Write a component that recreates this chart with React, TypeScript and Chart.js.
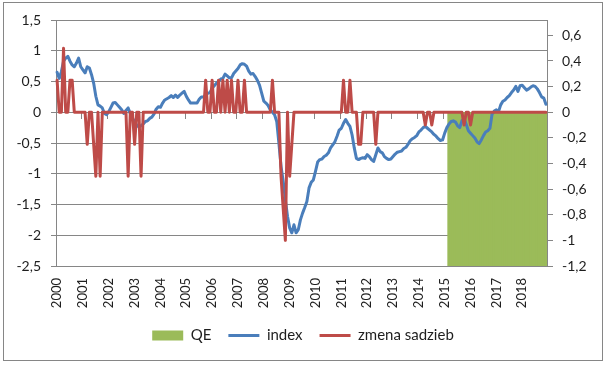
import React, { useEffect, useRef } from 'react';
import { Chart, registerables } from 'chart.js';

Chart.register(...registerables);

// ---- data ----
const years = ['2000', '2001', '2002', '2003', '2004', '2005', '2006', '2007', '2008', '2009',
  '2010', '2011', '2012', '2013', '2014', '2015', '2016', '2017', '2018'];
const monthNumbers = ['01', '02', '03', '04', '05', '06', '07', '08', '09', '10', '11', '12'];
const monthLabels = years.flatMap((y) => monthNumbers.map((m) => `${y}-${m}`));

// index (left axis), one value per month
const indexValues = [
  0.65, 0.55, 0.66, 0.83, 0.88, 0.91, 0.83, 0.77, 0.74, 0.80, 0.88, 0.74,
  0.69, 0.64, 0.74, 0.72, 0.61, 0.47, 0.26, 0.12, 0.10, 0.07, -0.02, -0.04,
  0.01, 0.08, 0.15, 0.16, 0.12, 0.08, 0.04, -0.02, 0.03, 0.07, -0.02, -0.10,
  -0.15, -0.21, -0.24, -0.22, -0.19, -0.15, -0.14, -0.10, -0.08, -0.03, 0.05, 0.09,
  0.08, 0.15, 0.20, 0.22, 0.24, 0.27, 0.24, 0.28, 0.24, 0.28, 0.31, 0.34,
  0.26, 0.20, 0.15, 0.15, 0.15, 0.15, 0.21, 0.25, 0.25, 0.28, 0.31, 0.32,
  0.39, 0.43, 0.47, 0.51, 0.54, 0.55, 0.62, 0.59, 0.56, 0.56, 0.63, 0.67,
  0.71, 0.77, 0.79, 0.78, 0.75, 0.67, 0.62, 0.63, 0.58, 0.52, 0.44, 0.31,
  0.18, 0.15, 0.11, 0.04, 0.00, -0.04, -0.15, -0.50, -0.88, -1.12, -1.42, -1.69,
  -1.88, -1.96, -1.83, -1.96, -1.91, -1.75, -1.64, -1.55, -1.45, -1.23, -1.14, -1.10,
  -0.96, -0.81, -0.77, -0.76, -0.72, -0.70, -0.66, -0.58, -0.53, -0.48, -0.39, -0.29,
  -0.26, -0.18, -0.12, -0.18, -0.23, -0.37, -0.58, -0.75, -0.77, -0.75, -0.74, -0.75,
  -0.69, -0.72, -0.77, -0.80, -0.69, -0.58, -0.64, -0.66, -0.72, -0.75, -0.77, -0.76,
  -0.72, -0.68, -0.65, -0.64, -0.63, -0.59, -0.57, -0.52, -0.46, -0.43, -0.41, -0.38,
  -0.32, -0.29, -0.25, -0.23, -0.26, -0.29, -0.32, -0.36, -0.39, -0.43, -0.46, -0.45,
  -0.34, -0.25, -0.19, -0.15, -0.14, -0.16, -0.22, -0.25, -0.14, -0.10, -0.20, -0.30,
  -0.34, -0.38, -0.42, -0.48, -0.51, -0.45, -0.38, -0.32, -0.30, -0.26, -0.03, 0.02,
  0.04, 0.01, 0.12, 0.18, 0.20, 0.24, 0.27, 0.32, 0.36, 0.42, 0.34, 0.43,
  0.44, 0.40, 0.36, 0.38, 0.41, 0.43, 0.42, 0.38, 0.32, 0.25, 0.23, 0.13,
];

// zmena sadzieb (right axis), one value per month
const rateChanges = [
  0.25, 0, 0, 0.5, 0, 0, 0.25, 0.25, 0, 0, 0, 0,
  0, 0, -0.25, 0, 0, -0.25, -0.5, 0, -0.5, 0, 0, 0,
  0, 0, 0, 0, 0, 0, 0, 0, 0, -0.5, 0, 0,
  -0.25, 0, 0, -0.5, 0, 0, 0, 0, 0, 0, 0, 0,
  0, 0, 0, 0, 0, 0, 0, 0, 0, 0, 0, 0,
  0, 0, 0, 0, 0, 0, 0, 0, 0, 0.25, 0, 0,
  0.25, 0, 0, 0.25, 0, 0.25, 0, 0.25, 0, 0.25, 0, 0,
  0.25, 0, 0, 0.25, 0, 0, 0, 0, 0, 0, 0, 0,
  0, 0, 0, 0, 0.25, 0, 0, 0, -0.5, -0.75, -1, 0,
  -0.5, -0.25, 0, 0, 0, 0, 0, 0, 0, 0, 0, 0,
  0, 0, 0, 0, 0, 0, 0, 0, 0, 0, 0, 0,
  0, 0.25, 0, 0, 0.25, 0, 0, 0, -0.25, -0.25, 0, 0,
  0, 0, 0, 0, -0.25, 0, 0, 0, 0, 0, 0, 0,
  0, 0, 0, 0, 0, 0, 0, 0, 0, 0, 0, 0,
  0, 0, 0, -0.1, 0, 0, -0.1, 0, 0, 0, 0, 0,
  0, 0, 0, 0, 0, 0, 0, 0, 0, -0.1, 0, 0,
  -0.1, 0, 0, 0, 0, 0, 0, 0, 0, 0, 0, 0,
  0, 0, 0, 0, 0, 0, 0, 0, 0, 0, 0, 0,
  0, 0, 0, 0, 0, 0, 0, 0, 0, 0, 0, 0,
];

// QE period (left axis, drawn down to the axis minimum)
const N = null;
const qeValues = [
  N, N, N, N, N, N, N, N, N, N, N, N,
  N, N, N, N, N, N, N, N, N, N, N, N,
  N, N, N, N, N, N, N, N, N, N, N, N,
  N, N, N, N, N, N, N, N, N, N, N, N,
  N, N, N, N, N, N, N, N, N, N, N, N,
  N, N, N, N, N, N, N, N, N, N, N, N,
  N, N, N, N, N, N, N, N, N, N, N, N,
  N, N, N, N, N, N, N, N, N, N, N, N,
  N, N, N, N, N, N, N, N, N, N, N, N,
  N, N, N, N, N, N, N, N, N, N, N, N,
  N, N, N, N, N, N, N, N, N, N, N, N,
  N, N, N, N, N, N, N, N, N, N, N, N,
  N, N, N, N, N, N, N, N, N, N, N, N,
  N, N, N, N, N, N, N, N, N, N, N, N,
  N, N, N, N, N, N, N, N, N, N, N, N,
  N, N, -2.5, -2.5, -2.5, -2.5, -2.5, -2.5, -2.5, -2.5, -2.5, -2.5,
  -2.5, -2.5, -2.5, -2.5, -2.5, -2.5, -2.5, -2.5, -2.5, -2.5, -2.5, -2.5,
  -2.5, -2.5, -2.5, -2.5, -2.5, -2.5, -2.5, -2.5, -2.5, -2.5, -2.5, -2.5,
  -2.5, -2.5, -2.5, -2.5, -2.5, -2.5, -2.5, -2.5, -2.5, -2.5, -2.5, -2.5,
];

const leftTicks = [-2.5, -2, -1.5, -1, -0.5, 0, 0.5, 1, 1.5];
const rightTicks = [-1.2, -1, -0.8, -0.6, -0.4, -0.2, 0, 0.2, 0.4, 0.6];
const seriesNames = ['QE', 'index', 'zmena sadzieb'];

// ---- styles ----
const GREEN = '#9BBB59';
const BLUE = '#4A7EBB';
const RED = '#BE4B48';
const GRID = '#868686';
const TEXT = '#1e1e1e';
const FONT = 'Lato, "Liberation Sans", Arial, sans-serif';

const fmt = (v: number) => {
  const r = Math.round(v * 100) / 100;
  if (Math.abs(r) < 1e-9) return '0';
  return String(r).replace('.', ',');
};

export default function App() {
  const ref = useRef<HTMLCanvasElement>(null);

  useEffect(() => {
    if (!ref.current) return;
    const chart = new Chart(ref.current, {
      type: 'line',
      data: {
        labels: monthLabels,
        datasets: [
          {
            type: 'bar',
            label: seriesNames[0],
            data: qeValues as any,
            backgroundColor: GREEN,
            borderWidth: 0,
            barPercentage: 1,
            categoryPercentage: 1,
            inflateAmount: 0.6,
            xAxisID: 'x',
            yAxisID: 'y',
            order: 3,
          } as any,
          {
            type: 'line',
            label: seriesNames[1],
            data: indexValues,
            borderColor: BLUE,
            backgroundColor: BLUE,
            borderWidth: 3,
            pointRadius: 0,
            tension: 0,
            borderJoinStyle: 'round',
            borderCapStyle: 'round',
            xAxisID: 'x',
            yAxisID: 'y',
            order: 2,
          },
          {
            type: 'line',
            label: seriesNames[2],
            data: rateChanges,
            borderColor: RED,
            backgroundColor: RED,
            borderWidth: 3,
            pointRadius: 0,
            tension: 0,
            borderJoinStyle: 'round',
            borderCapStyle: 'round',
            xAxisID: 'x',
            yAxisID: 'y2',
            order: 1,
          },
        ],
      },
      options: {
        responsive: false,
        animation: false,
        events: [],
        layout: { padding: { top: 20, bottom: 13, left: 0, right: 0 } },
        plugins: {
          tooltip: { enabled: false },
          legend: {
            position: 'bottom',
            labels: {
              usePointStyle: true,
              pointStyleWidth: 31,
              boxHeight: 10,
              padding: 17,
              color: TEXT,
              font: { family: FONT, size: 15 },
              generateLabels: () => [
                { text: seriesNames[0], fillStyle: GREEN, strokeStyle: GREEN, lineWidth: 0, pointStyle: 'rect', datasetIndex: 0, hidden: false, fontColor: TEXT },
                { text: seriesNames[1], fillStyle: BLUE, strokeStyle: BLUE, lineWidth: 3, pointStyle: 'line', datasetIndex: 1, hidden: false, fontColor: TEXT },
                { text: seriesNames[2], fillStyle: RED, strokeStyle: RED, lineWidth: 3, pointStyle: 'line', datasetIndex: 2, hidden: false, fontColor: TEXT },
              ] as any,
            },
          },
        },
        scales: {
          x: {
            type: 'category',
            position: 'bottom',
            offset: true,
            grid: { display: false, drawTicks: false },
            border: { display: false },
            ticks: {
              autoSkip: false,
              minRotation: 90,
              maxRotation: 90,
              padding: 12,
              color: TEXT,
              font: { family: FONT, size: 13 },
              callback: (_v: any, i: number) => (i % 12 === 0 ? monthLabels[i].slice(0, 4) : ''),
            },
            afterFit: (s: any) => { s.height = 45; },
          },
          xZero: {
            type: 'category',
            axis: 'x',
            position: { y: 0 } as any,
            offset: true,
            grid: {
              offset: true,
              drawOnChartArea: false,
              drawTicks: true,
              tickLength: 6,
              lineWidth: 1,
              color: (c: any) => (c.index % 12 === 0 ? GRID : 'rgba(0,0,0,0)'),
            },
            border: { display: true, color: GRID },
            ticks: { display: false, autoSkip: false },
          } as any,
          y: {
            type: 'linear',
            position: 'left',
            min: -2.5,
            max: 1.5,
            afterBuildTicks: (s: any) => { s.ticks = leftTicks.map((v) => ({ value: v })); },
            grid: { color: GRID, lineWidth: 1, drawTicks: true, tickLength: 5 },
            border: { display: true, color: GRID },
            ticks: {
              padding: 10,
              color: TEXT,
              font: { family: FONT, size: 14 },
              callback: (v: any) => fmt(Number(v)),
            },
            afterFit: (s: any) => { s.width = 56; },
          },
          y2: {
            type: 'linear',
            position: 'right',
            min: -1.2,
            max: 0.72,
            afterBuildTicks: (s: any) => { s.ticks = rightTicks.map((v) => ({ value: v })); },
            grid: { drawOnChartArea: false, color: GRID, lineWidth: 1, drawTicks: true, tickLength: 6 },
            border: { display: true, color: GRID },
            ticks: {
              padding: 9,
              color: TEXT,
              font: { family: FONT, size: 14 },
              callback: (v: any) => fmt(Number(v)),
            },
            afterFit: (s: any) => { s.width = 59; },
          },
        },
      } as any,
    });
    return () => chart.destroy();
  }, []);

  return (
    <div style={{ position: 'fixed', left: 0, top: 0, width: 606, height: 366, background: '#ffffff' }}>
      <canvas
        ref={ref}
        width={606}
        height={366}
        style={{ position: 'absolute', left: 0, top: 0, width: 606, height: 366 }}
      />
      <div
        style={{
          position: 'absolute', left: 3, top: 2, width: 600, height: 359,
          border: '1px solid #868686', boxSizing: 'border-box', pointerEvents: 'none',
        }}
      />
    </div>
  );
}
